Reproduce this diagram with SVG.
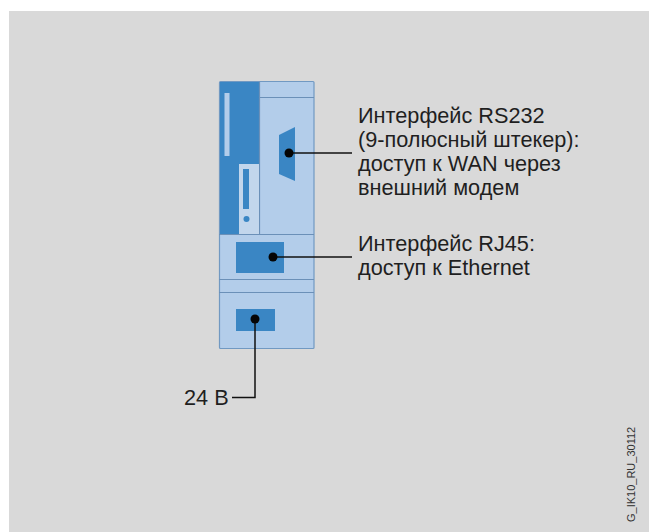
<svg xmlns="http://www.w3.org/2000/svg" width="649" height="532" viewBox="0 0 649 532">
<style>
.t{font-family:"Liberation Sans",Arial,sans-serif;font-size:21.7px;fill:#1f1f1f}
.l{fill:none;stroke:#6b90b8;stroke-width:1.2}
.d{fill:#3a86c4}
.c{fill:none;stroke:#111;stroke-width:1.5}
.p{fill:#050505}
</style>
<rect width="649" height="532" fill="#fff"/>
<rect x="9" y="11" width="640" height="521" fill="#d9d9d9"/>
<g id="module">
<rect x="219.500" y="81.500" width="94.500" height="267" rx="1" fill="#b3cdea" stroke="#7199c2" stroke-width="1.200"/>
<path class="d" d="M220 82H260V164H239V234H220Z"/>
<path class="l" d="M260 97.500H314M259.500 82V234M219 234.500H314M219 279.500H314M219 292.500H314"/>
<rect x="224.500" y="93" width="5" height="63" fill="#b3cdea"/>
<rect x="239" y="164" width="20" height="70" fill="#c2d6ec"/>
<rect class="d" x="243" y="169" width="6" height="40"/>
<circle class="d" cx="246.500" cy="219" r="3"/>
</g>
<g id="rs232"><path class="d" d="M279 135L295 127V181L279 174Z"/></g>
<g id="rj45"><rect class="d" x="236" y="242" width="48" height="31"/></g>
<g id="power"><rect class="d" x="236" y="309" width="39" height="22"/></g>
<g id="connectors">
<path class="c" d="M289 153H352"/><circle class="p" cx="289" cy="153" r="4.500"/>
<path class="c" d="M273 257H352"/><circle class="p" cx="273" cy="257" r="4.500"/>
<path class="c" d="M255 319V397.500H232"/><circle class="p" cx="255" cy="319" r="4.500"/>
</g>
<g id="labels">
<text class="t" x="358" y="123">Интерфейс RS232</text>
<text class="t" x="358" y="147">(9-полюсный штекер):</text>
<text class="t" x="358" y="171">доступ к WAN через</text>
<text class="t" x="358" y="195">внешний модем</text>
<text class="t" x="358" y="251">Интерфейс RJ45:</text>
<text class="t" x="358" y="275">доступ к Ethernet</text>
<text class="t" x="184" y="405">24 В</text>
<text x="635" y="522" transform="rotate(-90 635 522)" style="font-family:'Liberation Sans',Arial,sans-serif;font-size:11px;fill:#333">G_IK10_RU_30112</text>
</g>
</svg>
